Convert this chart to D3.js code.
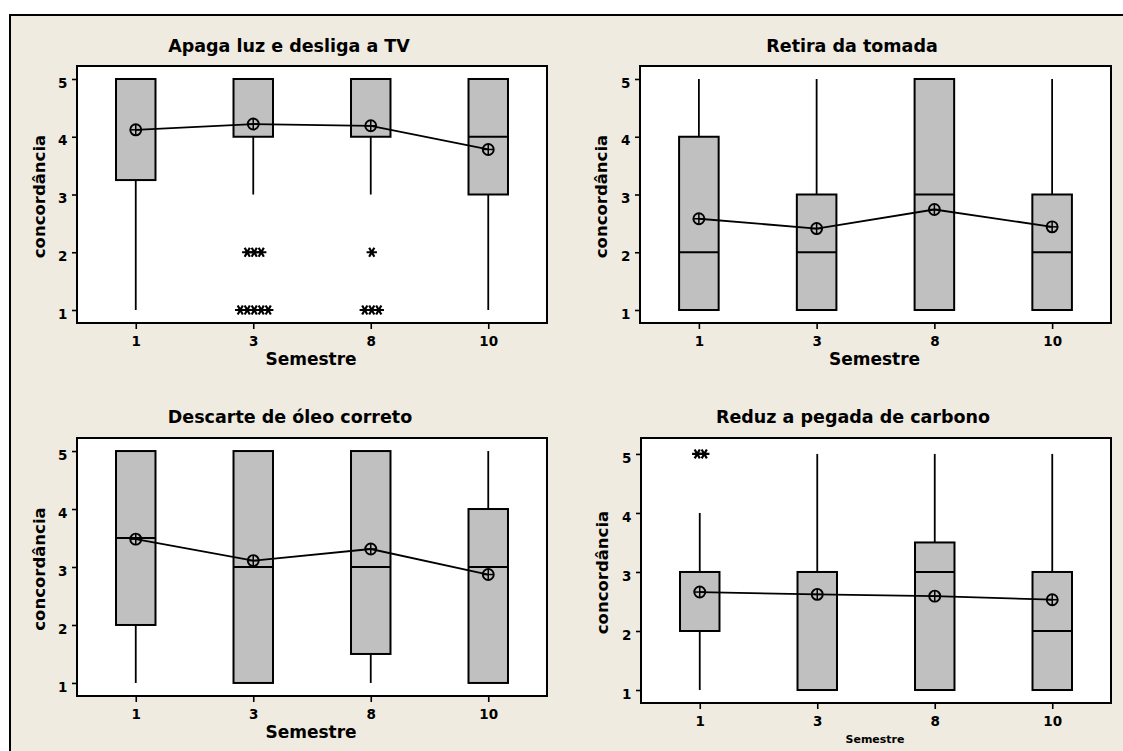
<!DOCTYPE html>
<html>
<head>
<meta charset="utf-8">
<script src="https://cdn.jsdelivr.net/npm/d3@7"></script>
<style>
  html, body { margin: 0; padding: 0; background: #ffffff; }
  svg { display: block; }
  text { font-family: "DejaVu Sans", Verdana, sans-serif; font-weight: bold; fill: #000; }
</style>
</head>
<body>
<svg id="chart" width="1123" height="751"></svg>
<script>
// ---------------- DATA ----------------
const semestres = ["1", "3", "8", "10"];
const yTicks = [1, 2, 3, 4, 5];
const titles = ["Apaga luz e desliga a TV", "Retira da tomada", "Descarte de óleo correto", "Reduz a pegada de carbono"];
const yLabel = "concordância";
const xLabel = "Semestre";

// Apaga luz e desliga a TV
const apagaQ1 = [3.25, 4, 4, 3];
const apagaMedian = [5, 5, 5, 4];
const apagaQ3 = [5, 5, 5, 5];
const apagaLow = [1, 3, 3, 1];
const apagaHigh = [5, 5, 5, 5];
const apagaMean = [4.12, 4.22, 4.19, 3.78];
const apagaOutliers = [[], [2, 2, 2, 1, 1, 1, 1, 1], [2, 1, 1, 1], []];

// Retira da tomada
const retiraQ1 = [1, 1, 1, 1];
const retiraMedian = [2, 2, 3, 2];
const retiraQ3 = [4, 3, 5, 3];
const retiraLow = [1, 1, 1, 1];
const retiraHigh = [5, 5, 5, 5];
const retiraMean = [2.58, 2.41, 2.74, 2.44];
const retiraOutliers = [[], [], [], []];

// Descarte de óleo correto
const oleoQ1 = [2, 1, 1.5, 1];
const oleoMedian = [3.5, 3, 3, 3];
const oleoQ3 = [5, 5, 5, 4];
const oleoLow = [1, 1, 1, 1];
const oleoHigh = [5, 5, 5, 5];
const oleoMean = [3.48, 3.11, 3.31, 2.87];
const oleoOutliers = [[], [], [], []];

// Reduz a pegada de carbono
const carbonoQ1 = [2, 1, 1, 1];
const carbonoMedian = [3, 3, 3, 2];
const carbonoQ3 = [3, 3, 3.5, 3];
const carbonoLow = [1, 1, 1, 1];
const carbonoHigh = [4, 5, 5, 5];
const carbonoMean = [2.66, 2.62, 2.59, 2.53];
const carbonoOutliers = [[5, 5], [], [], []];

// ---------------- BUILD ----------------
function makeBoxes(q1, med, q3, lo, hi, mean, outl) {
  return semestres.map((s, i) => ({ cat: s, q1: q1[i], med: med[i], q3: q3[i], lo: lo[i], hi: hi[i], mean: mean[i], out: outl[i] }));
}
const panelData = [
  makeBoxes(apagaQ1, apagaMedian, apagaQ3, apagaLow, apagaHigh, apagaMean, apagaOutliers),
  makeBoxes(retiraQ1, retiraMedian, retiraQ3, retiraLow, retiraHigh, retiraMean, retiraOutliers),
  makeBoxes(oleoQ1, oleoMedian, oleoQ3, oleoLow, oleoHigh, oleoMean, oleoOutliers),
  makeBoxes(carbonoQ1, carbonoMedian, carbonoQ3, carbonoLow, carbonoHigh, carbonoMean, carbonoOutliers)
];

// layout (positions/styles only)
const layouts = [
  { x0: 77, x1: 547, y0: 66, y1: 323, dom: [0.775, 5.225], tx: 289, ty: 51.5, ylx: 44.5, xly: 365, xls: 17 },
  { x0: 640, x1: 1111, y0: 66, y1: 323, dom: [0.775, 5.225], tx: 852, ty: 51.5, ylx: 607, xly: 365, xls: 17 },
  { x0: 77, x1: 547, y0: 438, y1: 696, dom: [0.775, 5.225], tx: 290, ty: 423, ylx: 44.5, xly: 738, xls: 17 },
  { x0: 641, x1: 1111, y0: 438, y1: 703, dom: [0.78, 5.27], tx: 853, ty: 423, ylx: 608, xly: 743, xls: 11 }
];

const svg = d3.select("#chart");
const BEIGE = "#efebe1";
const BOXFILL = "#c0c0c0";

// outer frame
svg.append("rect").attr("x", 10).attr("y", 15).attr("width", 1200).attr("height", 800)
  .attr("fill", BEIGE).attr("stroke", "#000").attr("stroke-width", 2);

panelData.forEach((boxes, pi) => {
  const L = layouts[pi];
  const x = d3.scalePoint().domain(semestres).range([L.x0, L.x1]).padding(0.5);
  const y = d3.scaleLinear().domain(L.dom).range([L.y1, L.y0]);
  const bw = x.step() * 0.336;
  const g = svg.append("g");

  // plot area
  g.append("rect").attr("x", L.x0).attr("y", L.y0).attr("width", L.x1 - L.x0).attr("height", L.y1 - L.y0)
    .attr("fill", "#fff").attr("stroke", "#000").attr("stroke-width", 2);

  // axes
  const ya = g.append("g").attr("transform", `translate(${L.x0},0)`)
    .call(d3.axisLeft(y).tickValues(yTicks).tickFormat(d3.format("d")).tickSize(5).tickSizeOuter(0).tickPadding(4.5));
  ya.select(".domain").remove();
  ya.selectAll(".tick line").attr("stroke", "#000").attr("stroke-width", 1.6);
  ya.selectAll(".tick text").attr("font-size", 13.5).attr("dy", "0.6em");

  const xa = g.append("g").attr("transform", `translate(0,${L.y1})`)
    .call(d3.axisBottom(x).tickSize(6).tickSizeOuter(0).tickPadding(7));
  xa.select(".domain").remove();
  xa.selectAll(".tick line").attr("stroke", "#000").attr("stroke-width", 1.6);
  xa.selectAll(".tick text").attr("font-size", 13.5);

  // whiskers
  boxes.forEach(b => {
    const cx = x(b.cat);
    if (b.lo < b.q1) g.append("line").attr("x1", cx).attr("x2", cx).attr("y1", y(b.lo)).attr("y2", y(b.q1))
      .attr("stroke", "#000").attr("stroke-width", 1.8);
    if (b.hi > b.q3) g.append("line").attr("x1", cx).attr("x2", cx).attr("y1", y(b.hi)).attr("y2", y(b.q3))
      .attr("stroke", "#000").attr("stroke-width", 1.8);
  });

  // boxes
  g.selectAll("rect.box").data(boxes).join("rect").attr("class", "box")
    .attr("x", d => x(d.cat) - bw / 2).attr("width", bw)
    .attr("y", d => y(d.q3)).attr("height", d => y(d.q1) - y(d.q3))
    .attr("fill", BOXFILL).attr("stroke", "#000").attr("stroke-width", 2);

  // medians
  g.selectAll("line.med").data(boxes).join("line").attr("class", "med")
    .attr("x1", d => x(d.cat) - bw / 2).attr("x2", d => x(d.cat) + bw / 2)
    .attr("y1", d => y(d.med)).attr("y2", d => y(d.med))
    .attr("stroke", "#000").attr("stroke-width", 2);

  // outliers as asterisks, identical values stacked side by side
  const star = d3.symbol().type(d3.symbolAsterisk).size(75);
  boxes.forEach(b => {
    const counts = d3.rollup(b.out, v => v.length, v => v);
    counts.forEach((n, val) => {
      for (let k = 0; k < n; k++) {
        const off = (k - (n - 1) / 2) * 7 + 1;
        g.append("path").attr("d", star)
          .attr("transform", `translate(${x(b.cat) + off},${y(val)}) rotate(90)`)
          .attr("fill", "none").attr("stroke", "#000").attr("stroke-width", 2.2);
      }
    });
  });

  // mean connect line
  g.append("path").datum(boxes)
    .attr("d", d3.line().x(d => x(d.cat)).y(d => y(d.mean)))
    .attr("fill", "none").attr("stroke", "#000").attr("stroke-width", 1.8);

  // mean symbols (circle with cross)
  const r = 5.5;
  boxes.forEach(b => {
    const cx = x(b.cat), cy = y(b.mean);
    g.append("circle").attr("cx", cx).attr("cy", cy).attr("r", r)
      .attr("fill", "none").attr("stroke", "#000").attr("stroke-width", 1.9);
    g.append("line").attr("x1", cx - r).attr("x2", cx + r).attr("y1", cy).attr("y2", cy)
      .attr("stroke", "#000").attr("stroke-width", 1.5);
    g.append("line").attr("x1", cx).attr("x2", cx).attr("y1", cy - r).attr("y2", cy + r)
      .attr("stroke", "#000").attr("stroke-width", 1.5);
  });

  // titles and labels
  g.append("text").attr("x", L.tx).attr("y", L.ty).attr("text-anchor", "middle")
    .attr("font-size", 17.5).text(titles[pi]);
  g.append("text").attr("transform", `translate(${L.ylx},${(L.y0 + L.y1) / 2 + 2}) rotate(-90)`)
    .attr("text-anchor", "middle").attr("font-size", 16.5).text(yLabel);
  g.append("text").attr("x", (L.x0 + L.x1) / 2 - 1).attr("y", L.xly).attr("text-anchor", "middle")
    .attr("font-size", L.xls).text(xLabel);
});
</script>
</body>
</html>
